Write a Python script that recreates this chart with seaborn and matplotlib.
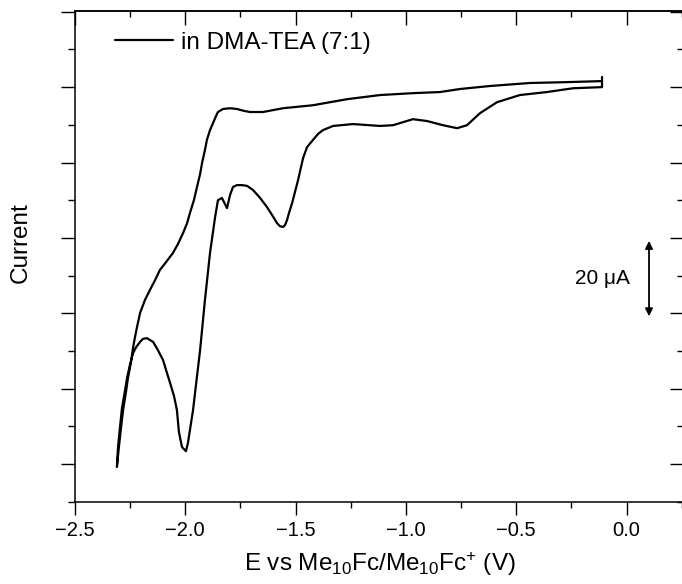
import numpy as np
import pandas as pd
import matplotlib
matplotlib.use("Agg")
import matplotlib.pyplot as plt
from matplotlib.ticker import MultipleLocator, NullFormatter
import seaborn as sns

# Cathodic sweep: from -0.11 V towards the switching potential (E in V, I in uA)
E_forward = [-0.111, -0.111, -0.243, -0.360, -0.483, -0.587, -0.664, -0.723, -0.768,
             -0.832, -0.904, -0.968, -1.058, -1.117, -1.240, -1.330, -1.376, -1.398,
             -1.421, -1.448, -1.466, -1.489, -1.516, -1.530, -1.539, -1.548, -1.557,
             -1.571, -1.584, -1.607, -1.630, -1.661, -1.693, -1.720, -1.743, -1.766,
             -1.784, -1.797, -1.811, -1.834, -1.852, -1.865, -1.888, -1.911, -1.933,
             -1.965, -1.988, -1.997, -2.015, -2.029, -2.038, -2.051, -2.069, -2.087,
             -2.101, -2.124, -2.146, -2.174, -2.192, -2.205, -2.223, -2.237, -2.251,
             -2.264, -2.273, -2.287, -2.296, -2.305, -2.310]
I_forward = [102.7, 100.0, 99.7, 98.7, 97.9, 96.0, 93.1, 89.9, 89.1,
             89.9, 91.0, 91.5, 89.9, 89.7, 90.2, 89.7, 88.6, 87.6,
             86.0, 84.1, 81.2, 75.3, 69.2, 66.6, 64.7, 63.4, 62.9,
             63.1, 63.9, 66.1, 68.2, 70.6, 72.7, 73.8, 74.0, 74.0,
             73.5, 71.4, 67.9, 70.6, 70.0, 65.5, 56.0, 43.5, 30.2,
             14.3, 5.6, 3.4, 4.5, 8.5, 14.3, 18.0, 21.5, 24.9,
             27.6, 30.2, 32.4, 33.4, 33.2, 32.4, 31.0, 29.4, 26.3,
             22.8, 19.6, 14.9, 9.8, 4.5, -0.8]

# Anodic return sweep back to -0.11 V
E_reverse = [-2.301, -2.291, -2.282, -2.269, -2.260, -2.246, -2.237, -2.228, -2.219,
             -2.205, -2.183, -2.160, -2.137, -2.115, -2.087, -2.056, -2.033, -2.010,
             -1.992, -1.979, -1.961, -1.947, -1.933, -1.924, -1.911, -1.902, -1.888,
             -1.874, -1.861, -1.852, -1.838, -1.829, -1.797, -1.766, -1.734, -1.707,
             -1.648, -1.557, -1.421, -1.267, -1.117, -0.968, -0.845, -0.755, -0.619,
             -0.437, -0.288, -0.111]
I_reverse = [4.5, 9.8, 14.3, 19.1, 22.8, 27.1, 30.8, 33.7, 36.3,
             40.1, 43.5, 46.2, 48.8, 51.5, 53.6, 56.0, 58.4, 61.3,
             63.9, 66.6, 70.0, 73.5, 76.9, 79.9, 83.3, 86.0, 88.6,
             90.5, 92.3, 93.4, 93.9, 94.2, 94.4, 94.2, 93.7, 93.4,
             93.4, 94.4, 95.2, 96.8, 97.9, 98.4, 98.7, 99.5, 100.3,
             101.1, 101.3, 101.6]

legend_label = "in DMA-TEA (7:1)"
scale_bar_uA = 20

cv = pd.DataFrame({
    "E": E_forward + E_reverse,
    "I": I_forward + I_reverse,
    "label": legend_label,
})

sns.set_style("ticks")
plt.rcParams["font.family"] = ["Liberation Sans", "DejaVu Sans"]
plt.rcParams["mathtext.fontset"] = "custom"
plt.rcParams["mathtext.rm"] = "Liberation Sans"
plt.rcParams["mathtext.it"] = "Liberation Sans:italic"
plt.rcParams["mathtext.bf"] = "Liberation Sans:bold"
plt.rcParams["text.color"] = "black"
plt.rcParams["axes.labelcolor"] = "black"
plt.rcParams["xtick.color"] = "black"
plt.rcParams["ytick.color"] = "black"
plt.rcParams["axes.edgecolor"] = "black"

fig = plt.figure(figsize=(6.82, 5.84), dpi=100, facecolor="white")
ax = fig.add_axes([75 / 682, 82 / 584, 609 / 682, 491 / 584])
ax.set_facecolor("white")

sns.lineplot(data=cv, x="E", y="I", hue="label", palette=["black"], sort=False,
             estimator=None, linewidth=1.6, ax=ax)

ax.set_xlim(-2.5, 0.2606)
ax.set_ylim(-10.08, 120.2)

ax.xaxis.set_major_locator(MultipleLocator(0.5))
ax.xaxis.set_minor_locator(MultipleLocator(0.25))
ax.yaxis.set_major_locator(MultipleLocator(20))
ax.yaxis.set_minor_locator(MultipleLocator(10))
ax.yaxis.set_major_formatter(NullFormatter())

for side in ax.spines.values():
    side.set_linewidth(1.1)
    side.set_color("black")

ax.tick_params(axis="both", which="both", direction="out", width=1.0,
               colors="black", labelcolor="black")
ax.tick_params(axis="x", which="major", length=9, labelsize=14.5, pad=5)
ax.tick_params(axis="x", which="minor", length=4.5)
ax.tick_params(axis="y", which="major", length=10)
ax.tick_params(axis="y", which="minor", length=5)

# Mirror ticks on top and right, pointing inward
top = ax.secondary_xaxis("top")
top.xaxis.set_major_locator(MultipleLocator(0.5))
top.xaxis.set_minor_locator(MultipleLocator(0.25))
top.tick_params(axis="x", which="major", direction="in", length=10, width=1.0,
                labeltop=False, colors="black")
top.tick_params(axis="x", which="minor", direction="in", length=4.5, width=1.0, colors="black")
top.spines["top"].set_linewidth(1.1)
top.spines["top"].set_color("black")

right = ax.secondary_yaxis("right")
right.yaxis.set_major_locator(MultipleLocator(20))
right.yaxis.set_minor_locator(MultipleLocator(10))
right.tick_params(axis="y", which="major", direction="in", length=10, width=1.0,
                  labelright=False, colors="black")
right.tick_params(axis="y", which="minor", direction="in", length=5, width=1.0, colors="black")

ax.set_xlabel(r"E vs Me$_{10}$Fc/Me$_{10}$Fc$^{+}$ (V)", fontsize=17.5, labelpad=7,
              color="black")
ax.set_ylabel("Current", fontsize=17.5, color="black")
ax.yaxis.set_label_coords(-0.0888, 0.5275)
ax.yaxis.label.set_verticalalignment("center")

leg = ax.legend(loc="center left", bbox_to_anchor=(40 / 609, (502 - 42.7) / 491),
                frameon=False, fontsize=17.5, handlelength=2.4, handletextpad=0.3,
                borderpad=0, borderaxespad=0)
for h in leg.get_lines():
    h.set_linewidth(1.6)
for t in leg.get_texts():
    t.set_color("black")

# Vertical current scale bar
bar_x = 0.102
bar_mid = 49.2
ax.annotate("", xy=(bar_x, bar_mid + scale_bar_uA / 2), xytext=(bar_x, bar_mid - scale_bar_uA / 2),
            arrowprops=dict(arrowstyle="<|-|>", color="black", lw=1.3,
                            shrinkA=0, shrinkB=0, mutation_scale=11))
ax.text(0.016, bar_mid, f"{scale_bar_uA} \u03bcA", ha="right", va="center", fontsize=15,
        color="black")

fig.savefig("out.png", dpi=100, facecolor="white")
